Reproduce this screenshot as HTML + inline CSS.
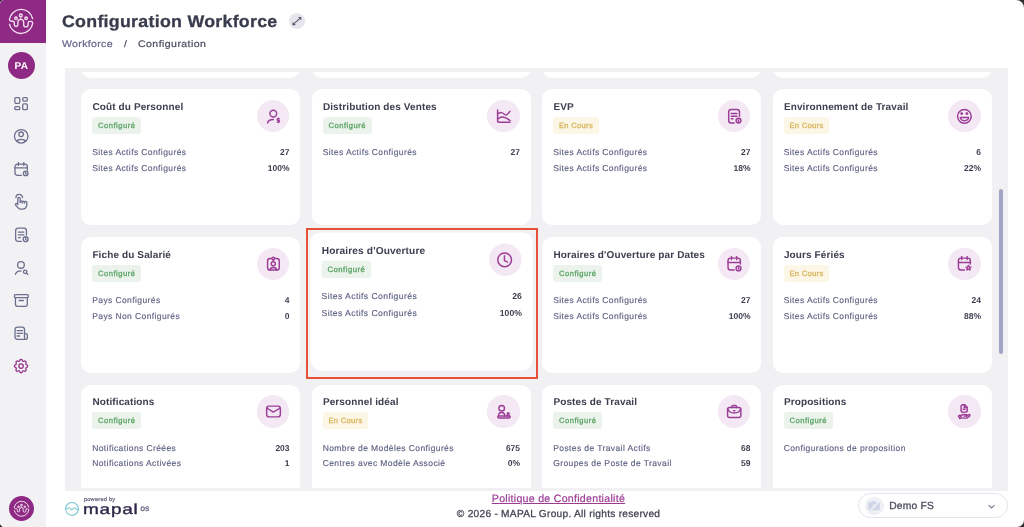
<!DOCTYPE html>
<html><head><meta charset="utf-8"><title>Configuration Workforce</title>
<style>
*{box-sizing:border-box;margin:0;padding:0}
html,body{width:1024px;height:527px;overflow:hidden;background:#2e2e30}
body{font-family:"Liberation Sans",sans-serif;position:relative;text-rendering:geometricPrecision}
.win{position:absolute;left:0;top:0;width:1024px;height:527px;background:#fff;overflow:hidden;border-radius:4.5px 8px 7px 4.5px}
.side{position:absolute;left:0;top:0;width:46px;height:527px;background:#f2f2f5}
.brand{position:absolute;left:0;top:0;width:46px;height:43.4px;background:#8e2a84}
.brand svg{position:absolute;left:0;top:0}
.avatar{position:absolute;left:7.6px;top:51.8px;width:27.4px;height:27.4px;border-radius:50%;background:#8e2a84;color:#fff;font-weight:bold;font-size:10px;letter-spacing:.35px;text-align:center;line-height:29px;text-indent:.3px}
.sic{position:absolute;left:10px;display:block}
.blogo{position:absolute;left:8.85px;top:495.9px;width:25px;height:25px;border-radius:50%;background:#8e2a84}
.blogo svg{position:absolute;left:0;top:0}
h1{position:absolute;left:62.2px;top:10px;font-size:16.8px;font-weight:bold;color:#383b4c;letter-spacing:.26px;white-space:nowrap;line-height:24px;transform:scaleX(1.06);transform-origin:0 0;-webkit-text-stroke:.3px #383b4c}
.exp{position:absolute;left:289.1px;top:12.9px;width:15.9px;height:15.9px;border-radius:50%;background:#e6e6ec}
.exp svg{position:absolute;left:0;top:0}
.bc{position:absolute;top:37.8px;font-size:9.6px;white-space:nowrap;line-height:14px;transform:scaleX(1.1);transform-origin:0 0;-webkit-text-stroke:.2px currentColor}
.bc.a{left:62px;color:#60658a;letter-spacing:.3px}
.bc.s{left:123.6px;color:#4d5063}
.bc.b{left:138px;color:#4a4d5e;letter-spacing:.39px}
.panel{position:absolute;left:64.7px;top:67.9px;width:943.3px;height:422.9px;background:#f1f1f4}
.vp{position:absolute;left:64.7px;top:71.6px;width:943.3px;height:416.1px;overflow:hidden}
.card{position:absolute;width:219.2px;height:136.2px;background:#fff;border-radius:10px}
.card.hov{transform:translateY(-3.6px) scale(1.015)}
.ttl{position:absolute;left:11.2px;top:11.7px;font-size:10px;font-weight:bold;color:#3d4050;letter-spacing:.12px;white-space:nowrap;line-height:14px}
.badge{position:absolute;left:11px;top:27.5px;height:17px;border-radius:3px;font-size:7.6px;font-weight:normal;line-height:17px;padding:0 5.8px;white-space:nowrap}
.badge.ok{background:#ebf3ec;color:#58a262;-webkit-text-stroke:.28px #58a262;letter-spacing:.5px}
.badge.wip{background:#fcf6e6;color:#d8b257;-webkit-text-stroke:.28px #d8b257;letter-spacing:.3px}
.ic{position:absolute;left:175.7px;top:10.5px;width:32.6px;height:32.6px;border-radius:50%;background:#f3e8f3}
.ics{position:absolute}
.row{position:absolute;left:11px;right:10.8px;height:12px;font-size:8.5px;line-height:12px;white-space:nowrap}
.row .l{color:#5e6283;letter-spacing:.4px;-webkit-text-stroke:.15px #5e6283}
.row .v{position:absolute;right:0;top:0;color:#3a3d4e;font-weight:bold}
.row.r0{top:57px}
.row.r1{top:72.6px}
.sb{position:absolute;left:998.7px;top:189px;width:4.1px;height:165.3px;border-radius:2px;background:#a1a5c5}
.red{position:absolute;left:306px;top:228px;width:232px;height:150.6px;border:2px solid #e8503b}
.flink{position:absolute;left:491.8px;top:492.2px;font-size:10.6px;line-height:14px;color:#9b3b95;text-decoration:underline;letter-spacing:.28px;-webkit-text-stroke:.2px #9b3b95;white-space:nowrap}
.copy{position:absolute;left:456.8px;top:508px;font-size:10.2px;line-height:14px;color:#404252;letter-spacing:.25px;-webkit-text-stroke:.25px #404252;white-space:nowrap}
.plogo{position:absolute;left:65px;top:496px;width:90px;height:26px}
.plogo .pw{position:absolute;left:18.9px;top:.3px;font-size:5.6px;line-height:8px;color:#5f5a78;font-weight:normal;-webkit-text-stroke:.2px #5f5a78;letter-spacing:.25px;white-space:nowrap}
.plogo .mp{position:absolute;left:18.4px;top:5.6px;font-size:14.6px;line-height:16px;color:#2e2548;font-weight:normal;-webkit-text-stroke:.35px #2e2548;letter-spacing:.6px;white-space:nowrap;transform:scaleX(1.3);transform-origin:0 0}
.plogo .os{position:absolute;left:75.2px;top:7.5px;font-size:8.6px;line-height:8px;color:#5d5679;font-weight:normal;-webkit-text-stroke:.2px #5d5679;letter-spacing:0;white-space:nowrap}
.demo{position:absolute;left:858px;top:492.8px;width:150.2px;height:25.6px;border:1px solid #e3e4ee;border-radius:13px;background:#fff}
.demo .av{position:absolute;left:6.4px;top:3.3px;width:18.2px;height:18.2px;border-radius:50%;background:#eff0f5}
.demo .nm{position:absolute;left:30.2px;top:6.4px;font-size:10.3px;line-height:14px;color:#4b4d5e;letter-spacing:.2px;-webkit-text-stroke:.3px #4b4d5e;white-space:nowrap}
.demo .ch{position:absolute;left:128px;top:8px}
</style></head><body><div class="win">
<div class="side">
 <div class="brand"><svg width="46" height="44" viewBox="0 0 46 44" fill="none" stroke="#f3dff1" stroke-width="1.35" stroke-linecap="round" stroke-linejoin="round"><path d="M32.6 18.6A11.8 11.8 0 0 0 9.4 19.5Q9.6 21.2 11.5 21.2H12.6Q14.3 21.2 14.3 23V24.7A1.8 1.8 0 0 0 17.9 24.7V22.2A2.9 2.9 0 0 1 23.7 22.2V24.7A2.2 2.2 0 0 0 28.1 24.7V23Q28.1 21.4 29.8 21.4H30.8Q32.6 21.4 32.7 23.2A11.8 11.8 0 0 1 9.5 24.3"/><circle cx="20.8" cy="15.4" r="1.4"/><circle cx="16" cy="18.3" r="1.3"/><circle cx="26.1" cy="18.3" r="1.3"/><path d="M20.8 16.9V18.6" stroke-width=".9"/></svg></div>
 <div class="avatar">PA</div>
 <svg class="sic" style="top:94px" width="22" height="22" viewBox="0 0 22 22" fill="none" stroke="#6c6f8e" stroke-width="1.3" stroke-linecap="round" stroke-linejoin="round"><rect x="4.85" y="3.55" width="4.9" height="5.8" rx="1"/><rect x="12.75" y="3.55" width="4.55" height="3.5" rx="1"/><rect x="4.85" y="12.55" width="4.9" height="3.1" rx="1"/><rect x="12.75" y="9.85" width="4.55" height="5.8" rx="1"/></svg><svg class="sic" style="top:125px" width="22" height="22" viewBox="0 0 22 22" fill="none" stroke="#6c6f8e" stroke-width="1.3" stroke-linecap="round" stroke-linejoin="round"><circle cx="11.2" cy="11.3" r="6.75"/><circle cx="11.1" cy="9.3" r="2.3"/><path d="M6.7 16.3Q7.6 14.4 11.1 14.4Q14.6 14.4 15.6 16.3"/></svg><svg class="sic" style="top:158px" width="22" height="22" viewBox="0 0 22 22" fill="none" stroke="#6c6f8e" stroke-width="1.3" stroke-linecap="round" stroke-linejoin="round"><path d="M11.5 17.35H7.5a2.5 2.5 0 0 1 -2.5 -2.5V8.7a2.5 2.5 0 0 1 2.5 -2.5h7.35a2.5 2.5 0 0 1 2.5 2.5V12"/><path d="M5 9.8H17.35"/><path d="M8.4 4.6V7.4"/><path d="M13.8 4.6V7.4"/><circle cx="15.7" cy="15.4" r="2.3"/><path d="M15.7 14.6v.9l.5 .5"/></svg><svg class="sic" style="top:191px" width="22" height="22" viewBox="0 0 22 22" fill="none" stroke="#6c6f8e" stroke-width="1.3" stroke-linecap="round" stroke-linejoin="round"><path d="M5.9 6.6a3.3 3.3 0 0 1 6.6 0"/><path d="M7.8 13V7.6a1.2 1.2 0 0 1 2.4 0V11.6"/><path d="M10.2 10.9a1.05 1.05 0 0 1 2.1 0V12"/><path d="M12.3 11.2a1.05 1.05 0 0 1 2.1 0V12.2"/><path d="M14.4 11.6a1.2 1.2 0 0 1 2.4 0V14a4.2 4.2 0 0 1 -4.2 4.2H11.2a4.2 4.2 0 0 1 -3.3 -1.6L5.6 14.1a1 1 0 0 1 1.4 -1.4L7.8 13.5"/></svg><svg class="sic" style="top:224px" width="22" height="22" viewBox="0 0 22 22" fill="none" stroke="#6c6f8e" stroke-width="1.3" stroke-linecap="round" stroke-linejoin="round"><path d="M11.3 17.35H8.15a2.5 2.5 0 0 1 -2.5 -2.5V6.7a2.5 2.5 0 0 1 2.5 -2.5h5.8a2.5 2.5 0 0 1 2.5 2.5V10.9"/><path d="M8.4 8.1H13.8"/><path d="M8.4 10.9H13.8"/><path d="M8.4 13.6H10.4"/><circle cx="15.65" cy="15.2" r="2.45"/><path d="M15.65 14.4v.9l.5 .5"/></svg><svg class="sic" style="top:257px" width="22" height="22" viewBox="0 0 22 22" fill="none" stroke="#6c6f8e" stroke-width="1.3" stroke-linecap="round" stroke-linejoin="round"><circle cx="10.95" cy="7.9" r="3.35"/><path d="M5.5 17.4Q6.3 13.9 11 13.9"/><circle cx="15.2" cy="14.8" r="1.75"/><path d="M16.5 16.1L17.8 17.4"/></svg><svg class="sic" style="top:289px" width="22" height="22" viewBox="0 0 22 22" fill="none" stroke="#6c6f8e" stroke-width="1.3" stroke-linecap="round" stroke-linejoin="round"><rect x="4.4" y="5.65" width="13.95" height="2.9" rx="1"/><path d="M5.45 8.55V15.3a2 2 0 0 0 2 2h7.85a2 2 0 0 0 2 -2V8.55"/><path d="M9.2 11.5H13.4"/></svg><svg class="sic" style="top:322px" width="22" height="22" viewBox="0 0 22 22" fill="none" stroke="#6c6f8e" stroke-width="1.3" stroke-linecap="round" stroke-linejoin="round"><path d="M14.5 17.3H7.55a2.5 2.5 0 0 1 -2.5 -2.5V7.55a2.5 2.5 0 0 1 2.5 -2.5h4.45a2.5 2.5 0 0 1 2.5 2.5z"/><path d="M14.5 11.7h1.5a1.3 1.3 0 0 1 1.3 1.3v2.9a1.4 1.4 0 0 1 -1.4 1.4h-1.4"/><path d="M7.1 8.55H12.5"/><path d="M7.1 11.3H12.5"/><path d="M7.1 14H9.6"/></svg><svg class="sic" style="top:354px" width="22" height="22" viewBox="0 0 22 22" fill="none" stroke="#93318c" stroke-width="1.3" stroke-linecap="round" stroke-linejoin="round"><g transform="translate(11.05 12.1) scale(.74) translate(-12 -12)" stroke-width="1.75"><path d="M10.325 4.317c.426 -1.756 2.924 -1.756 3.35 0a1.724 1.724 0 0 0 2.573 1.066c1.543 -.94 3.31 .826 2.37 2.37a1.724 1.724 0 0 0 1.065 2.572c1.756 .426 1.756 2.924 0 3.35a1.724 1.724 0 0 0 -1.066 2.573c.94 1.543 -.826 3.31 -2.37 2.37a1.724 1.724 0 0 0 -2.572 1.065c-.426 1.756 -2.924 1.756 -3.35 0a1.724 1.724 0 0 0 -2.573 -1.066c-1.543 .94 -3.31 -.826 -2.37 -2.37a1.724 1.724 0 0 0 -1.065 -2.572c-1.756 -.426 -1.756 -2.924 0 -3.35a1.724 1.724 0 0 0 1.066 -2.573c-.94 -1.543 .826 -3.31 2.37 -2.37c1 .608 2.296 .07 2.572 -1.065z"/><path d="M9 12a3 3 0 1 0 6 0a3 3 0 0 0 -6 0"/></g></svg>
 <div class="blogo"><svg width="25" height="25" viewBox="8.5 8.5 25 25" fill="none" stroke="#f3dff1" stroke-width="1.6" stroke-linecap="round" stroke-linejoin="round"><g transform="translate(21 21) scale(.62) translate(-21 -21)"><path d="M32.6 18.6A11.8 11.8 0 0 0 9.4 19.5Q9.6 21.2 11.5 21.2H12.6Q14.3 21.2 14.3 23V24.7A1.8 1.8 0 0 0 17.9 24.7V22.2A2.9 2.9 0 0 1 23.7 22.2V24.7A2.2 2.2 0 0 0 28.1 24.7V23Q28.1 21.4 29.8 21.4H30.8Q32.6 21.4 32.7 23.2A11.8 11.8 0 0 1 9.5 24.3"/><circle cx="20.8" cy="15.4" r="1.4"/><circle cx="16" cy="18.3" r="1.3"/><circle cx="26.1" cy="18.3" r="1.3"/><path d="M20.8 16.9V18.6" stroke-width=".9"/></g></svg></div>
</div>
<h1>Configuration Workforce</h1>
<div class="exp"><svg width="16" height="16" viewBox="0 0 16 16" fill="none" stroke="#55586a" stroke-width="1.1" stroke-linecap="round" stroke-linejoin="round"><path d="M4.2 11.3L11.5 4.8"/><path d="M9.9 4.5H11.8V6.4"/><path d="M4 9.7V11.6H5.9"/></svg></div>
<div class="bc a">Workforce</div><div class="bc s">/</div><div class="bc b">Configuration</div>
<div class="panel"></div>
<div class="vp">
<div class="card" style="left:16.50px;top:-130.05px"></div><div class="card" style="left:247.00px;top:-130.05px"></div><div class="card" style="left:477.50px;top:-130.05px"></div><div class="card" style="left:708.00px;top:-130.05px"></div>
<div class="card" style="left:16.50px;top:17.70px"><div class="ttl">Coût du Personnel</div><div class="badge ok">Configuré</div><div class="ic"></div><svg class="ics" style="left:179.80px;top:14.70px" width="24" height="24" viewBox="0 0 24 24" fill="none" stroke="#9b3d97" color="#9b3d97" stroke-width="1.45" stroke-linecap="round" stroke-linejoin="round"><circle cx="12.3" cy="9.55" r="3.4"/><path d="M6.6 19Q7.2 15.5 12.3 15.5"/><path d="M18.3 14.7h-1.2a.85 .85 0 0 0 0 1.7h.5a.85 .85 0 0 1 0 1.7h-1.3"/><path d="M17.2 14.1v.3m0 3.8v.3"/></svg><div class="row r0"><span class="l">Sites Actifs Configurés</span><span class="v">27</span></div><div class="row r1"><span class="l">Sites Actifs Configurés</span><span class="v">100%</span></div></div><div class="card" style="left:247.00px;top:17.70px"><div class="ttl">Distribution des Ventes</div><div class="badge ok">Configuré</div><div class="ic"></div><svg class="ics" style="left:179.30px;top:14.70px" width="24" height="24" viewBox="0 0 24 24" fill="none" stroke="#9b3d97" color="#9b3d97" stroke-width="1.45" stroke-linecap="round" stroke-linejoin="round"><path d="M6.6 5.9V16.4a1.8 1.8 0 0 0 1.8 1.8H19.1"/><path d="M6.6 9.8C8 9.2 9.3 8.5 10.5 8.6C12.3 8.8 13.3 10.9 15 10.9C16.7 10.9 17.8 8.6 18.9 7.3"/><path d="M6.6 15C8 14 9.3 13 10.9 13C13.8 13 16.5 14.6 19.1 16.6"/></svg><div class="row r0"><span class="l">Sites Actifs Configurés</span><span class="v">27</span></div></div><div class="card" style="left:477.50px;top:17.70px"><div class="ttl">EVP</div><div class="badge wip">En Cours</div><div class="ic"></div><svg class="ics" style="left:178.80px;top:14.70px" width="24" height="24" viewBox="0 0 24 24" fill="none" stroke="#9b3d97" color="#9b3d97" stroke-width="1.45" stroke-linecap="round" stroke-linejoin="round"><path d="M13.2 18.95H10.2a2.5 2.5 0 0 1 -2.5 -2.5V7.95a2.5 2.5 0 0 1 2.5 -2.5h5.75a2.5 2.5 0 0 1 2.5 2.5V12.3"/><path d="M10.25 9.55H15.9"/><path d="M10.25 12.3H15.9"/><path d="M10.25 14.8H12"/><circle cx="17.5" cy="16.6" r="2.4"/><path d="M17.5 16v1.5"/></svg><div class="row r0"><span class="l">Sites Actifs Configurés</span><span class="v">27</span></div><div class="row r1"><span class="l">Sites Actifs Configurés</span><span class="v">18%</span></div></div><div class="card" style="left:708.00px;top:17.70px"><div class="ttl">Environnement de Travail</div><div class="badge wip">En Cours</div><div class="ic"></div><svg class="ics" style="left:178.30px;top:14.70px" width="24" height="24" viewBox="0 0 24 24" fill="none" stroke="#9b3d97" color="#9b3d97" stroke-width="1.45" stroke-linecap="round" stroke-linejoin="round"><circle cx="13.4" cy="12.3" r="6.85"/><circle cx="10.7" cy="9.6" r=".75" fill="currentColor"/><circle cx="15.9" cy="9.6" r=".75" fill="currentColor"/><path d="M9.3 13.5h8.3a4.15 3.2 0 0 1 -8.3 0z"/></svg><div class="row r0"><span class="l">Sites Actifs Configurés</span><span class="v">6</span></div><div class="row r1"><span class="l">Sites Actifs Configurés</span><span class="v">22%</span></div></div><div class="card" style="left:16.50px;top:165.45px"><div class="ttl">Fiche du Salarié</div><div class="badge ok">Configuré</div><div class="ic"></div><svg class="ics" style="left:179.80px;top:14.95px" width="24" height="24" viewBox="0 0 24 24" fill="none" stroke="#9b3d97" color="#9b3d97" stroke-width="1.45" stroke-linecap="round" stroke-linejoin="round"><rect x="6.55" y="6.55" width="11.7" height="11.5" rx="2.4"/><circle cx="12.3" cy="6.4" r="1.3" fill="#f3e8f3"/><path d="M12.3 7.7v1.9"/><circle cx="12.3" cy="11.85" r="2.05"/><path d="M9.1 18a3.2 2.6 0 0 1 6.4 0"/></svg><div class="row r0"><span class="l">Pays Configurés</span><span class="v">4</span></div><div class="row r1"><span class="l">Pays Non Configurés</span><span class="v">0</span></div></div><div class="card hov" style="left:247.00px;top:165.45px"><div class="ttl">Horaires d'Ouverture</div><div class="badge ok">Configuré</div><div class="ic"></div><svg class="ics" style="left:179.17px;top:15.06px" width="24" height="24" viewBox="0 0 24 24" fill="none" stroke="#9b3d97" color="#9b3d97" stroke-width="1.45" stroke-linecap="round" stroke-linejoin="round"><circle cx="12.4" cy="12.1" r="6.75"/><path d="M12.2 8.1v4.7l3.1 1.6"/></svg><div class="row r0"><span class="l">Sites Actifs Configurés</span><span class="v">26</span></div><div class="row r1"><span class="l">Sites Actifs Configurés</span><span class="v">100%</span></div></div><div class="card" style="left:477.50px;top:165.45px"><div class="ttl">Horaires d'Ouverture par Dates</div><div class="badge ok">Configuré</div><div class="ic"></div><svg class="ics" style="left:178.80px;top:14.95px" width="24" height="24" viewBox="0 0 24 24" fill="none" stroke="#9b3d97" color="#9b3d97" stroke-width="1.45" stroke-linecap="round" stroke-linejoin="round"><path d="M13.2 18.05H9.55a2.5 2.5 0 0 1 -2.5 -2.5V8.6a2.5 2.5 0 0 1 2.5 -2.5h7.3a2.5 2.5 0 0 1 2.5 2.5V12"/><path d="M7.05 10.5H19.35"/><path d="M10.5 4.6V7.5"/><path d="M15.7 4.6V7.5"/><circle cx="17.5" cy="16.4" r="2.4"/><path d="M17.5 15.6v.9l.5 .4"/></svg><div class="row r0"><span class="l">Sites Actifs Configurés</span><span class="v">27</span></div><div class="row r1"><span class="l">Sites Actifs Configurés</span><span class="v">100%</span></div></div><div class="card" style="left:708.00px;top:165.45px"><div class="ttl">Jours Fériés</div><div class="badge wip">En Cours</div><div class="ic"></div><svg class="ics" style="left:178.30px;top:14.95px" width="24" height="24" viewBox="0 0 24 24" fill="none" stroke="#9b3d97" color="#9b3d97" stroke-width="1.45" stroke-linecap="round" stroke-linejoin="round"><path d="M13.4 18.05H9.95a2.5 2.5 0 0 1 -2.5 -2.5V8.6a2.5 2.5 0 0 1 2.5 -2.5h6.9a2.5 2.5 0 0 1 2.5 2.5V12"/><path d="M7.45 10.5H19.35"/><path d="M10.7 4.6V7.5"/><path d="M16.2 4.6V7.5"/><path d="M17.5 13.4l.75 1.5l1.65 .25l-1.2 1.15l.3 1.65l-1.5 -.8l-1.5 .8l.3 -1.65l-1.2 -1.15l1.65 -.25z"/></svg><div class="row r0"><span class="l">Sites Actifs Configurés</span><span class="v">24</span></div><div class="row r1"><span class="l">Sites Actifs Configurés</span><span class="v">88%</span></div></div><div class="card" style="left:16.50px;top:313.20px"><div class="ttl">Notifications</div><div class="badge ok">Configuré</div><div class="ic"></div><svg class="ics" style="left:179.80px;top:15.20px" width="24" height="24" viewBox="0 0 24 24" fill="none" stroke="#9b3d97" color="#9b3d97" stroke-width="1.45" stroke-linecap="round" stroke-linejoin="round"><rect x="5.65" y="6.1" width="13.7" height="10.75" rx="2.4"/><path d="M5.8 8L12.3 12.1L19.2 8"/></svg><div class="row r0"><span class="l">Notifications Créées</span><span class="v">203</span></div><div class="row r1"><span class="l">Notifications Activées</span><span class="v">1</span></div></div><div class="card" style="left:247.00px;top:313.20px"><div class="ttl">Personnel idéal</div><div class="badge wip">En Cours</div><div class="ic"></div><svg class="ics" style="left:179.30px;top:15.20px" width="24" height="24" viewBox="0 0 24 24" fill="none" stroke="#9b3d97" color="#9b3d97" stroke-width="1.45" stroke-linecap="round" stroke-linejoin="round"><circle cx="10.7" cy="8.2" r="2.8"/><path d="M7.5 15.9a3.1 3.4 0 0 1 6.2 0"/><rect x="6.8" y="15.9" width="12.35" height="2.15" rx="1"/><path d="M16.35 15.9v-2.4a.85 .85 0 0 1 1.7 0v2.4"/></svg><div class="row r0"><span class="l">Nombre de Modèles Configurés</span><span class="v">675</span></div><div class="row r1"><span class="l">Centres avec Modèle Associé</span><span class="v">0%</span></div></div><div class="card" style="left:477.50px;top:313.20px"><div class="ttl">Postes de Travail</div><div class="badge ok">Configuré</div><div class="ic"></div><svg class="ics" style="left:178.80px;top:15.20px" width="24" height="24" viewBox="0 0 24 24" fill="none" stroke="#9b3d97" color="#9b3d97" stroke-width="1.45" stroke-linecap="round" stroke-linejoin="round"><rect x="6.55" y="7.45" width="13.3" height="10.1" rx="2"/><path d="M10.9 7.45v-.8a1.2 1.2 0 0 1 1.2 -1.2h2.25a1.2 1.2 0 0 1 1.2 1.2v.8"/><path d="M6.7 8.6Q8 13 13.2 13Q18.4 13 19.7 8.6"/><path d="M12.6 10.7h1.2"/></svg><div class="row r0"><span class="l">Postes de Travail Actifs</span><span class="v">68</span></div><div class="row r1"><span class="l">Groupes de Poste de Travail</span><span class="v">59</span></div></div><div class="card" style="left:708.00px;top:313.20px"><div class="ttl">Propositions</div><div class="badge ok">Configuré</div><div class="ic"></div><svg class="ics" style="left:178.30px;top:15.20px" width="24" height="24" viewBox="0 0 24 24" fill="none" stroke="#9b3d97" color="#9b3d97" stroke-width="1.45" stroke-linecap="round" stroke-linejoin="round"><path d="M11.9 4.75h1.9l2.4 2.4v3.1a1.85 1.85 0 0 1 -1.85 1.85h-2.45a1.85 1.85 0 0 1 -1.85 -1.85v-3.65a1.85 1.85 0 0 1 1.85 -1.85z"/><path d="M13.3 4.9v2.5h2.6"/><path d="M12.2 9.3h1.8"/><path d="M7.4 16.2l1.6 -1l1.5 2.5l-1.6 1z"/><path d="M10 15.5c1.4 -1.1 2.9 -1.3 4.3 -.9h1a.75 .75 0 0 1 0 1.5h-2.2"/><path d="M15.4 16l2.5 -1.4a.85 .85 0 0 1 .9 1.4l-3 2.1h-4.4"/></svg><div class="row r0"><span class="l">Configurations de proposition</span></div></div>
</div>
<div class="sb"></div>
<div class="red"></div>
<div class="plogo">
 <svg width="16" height="16" viewBox="0 0 16 16" style="position:absolute;left:0;top:6.4px" fill="none" stroke="#82cad1" stroke-width="1.15" stroke-linecap="round"><path d="M0.9 8.9A6.4 6.4 0 1 0 0.6 6.4"/><path d="M0.5 7.5C1.8 7.2 3 5.6 4.3 5.8C5.4 6 5.6 7.8 6.6 7.8C7.8 7.8 8.6 5.6 9.6 5.8C10.6 6 10.8 7.6 11.7 7.6C12.4 7.6 13 7.1 13.3 6.9"/></svg>
 <span class="pw">powered by</span><span class="mp">mapal</span><span class="os">os</span>
</div>
<div class="flink">Politique de Confidentialité</div>
<div class="copy">© 2026 - MAPAL Group. All rights reserved</div>
<div class="demo"><div class="av"><svg width="18.2" height="18.2" viewBox="0 0 18.2 18.2"><path d="M3.2 6.2a1 1 0 0 1 1 -1h2.2l1 -1.2h2.2l1 1.2h3.2a1 1 0 0 1 1 1v6.1a1 1 0 0 1 -1 1h-9.6a1 1 0 0 1 -1 -1z" fill="#cfd6e7"/><circle cx="9.2" cy="9.2" r="2.1" fill="#dde2ee"/><path d="M3.6 15.2L15.4 3.4" stroke="#eff0f5" stroke-width="1.6"/><path d="M4.3 15.8L15.9 4.2" stroke="#d8deec" stroke-width=".7"/></svg></div><span class="nm">Demo FS</span>
 <svg class="ch" width="9" height="9" viewBox="0 0 24 24" fill="none" stroke="#7f8299" stroke-width="3" stroke-linecap="round" stroke-linejoin="round"><path d="M5 9l7 7l7 -7"/></svg></div>
</div></body></html>
